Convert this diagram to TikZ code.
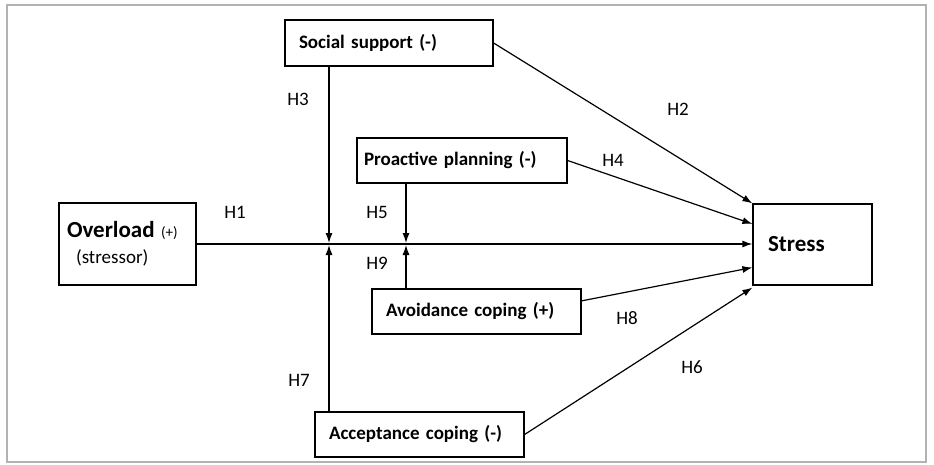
\documentclass[tikz,border=0pt]{standalone}
\usepackage{fontspec}
\setmainfont{Carlito}
\usetikzlibrary{arrows.meta,calc,positioning}

\begin{document}
\begin{tikzpicture}[x=1pt,y=-1pt,>={Latex[length=10pt,width=7pt]},line width=1.2pt,
  box/.style={draw,rectangle,inner xsep=14pt,align=left,font=\fontsize{19}{22}\selectfont\bfseries},
  lbl/.style={font=\fontsize{19}{22}\selectfont}]
\useasboundingbox (0,0) rectangle (934,465);
\draw [gray!60,line width=1.6pt] (7,5) rectangle (926,462);
% boxes
\node[box,minimum width=137pt,minimum height=82pt,text width=121pt,inner xsep=8pt] (overload) at (127.5,244)
  {\fontsize{23}{26}\selectfont Overload \mdseries\fontsize{15}{18}\selectfont(+)\\[4pt]
   \hspace*{9pt}\mdseries\fontsize{19}{22}\selectfont(stressor)};
\node[box,minimum width=119pt,minimum height=81pt,text width=89pt,font=\fontsize{23}{26}\selectfont\bfseries] (stress) at (812.5,244.5) {Stress};
\node[box,minimum width=208pt,minimum height=46pt,text width=180pt] (social) at (389,43) {Social support (-)};
\node[box,minimum width=210pt,minimum height=45pt,text width=196pt,inner xsep=7pt] (proactive) at (462,160.5) {Proactive planning (-)};
\node[box,minimum width=209pt,minimum height=45pt,text width=181pt] (avoid) at (476.5,311.5) {Avoidance coping (+)};
\node[box,minimum width=209pt,minimum height=45pt,text width=181pt] (accept) at (419.5,434.5) {Acceptance coping (-)};
% moderation points
\coordinate (j1) at (329,244);
\coordinate (j2) at (406,244);
% arrows
\draw [->] (overload.east) -- (overload.east -| stress.west);
\draw [->,shorten >=1pt] (social.south -| j1) -- (j1);
\draw [->,shorten >=1pt] (accept.north -| j1) -- (j1);
\draw [->,shorten >=1pt] (proactive.south -| j2) -- (j2);
\draw [->,shorten >=1pt] (avoid.north -| j2) -- (j2);
\draw [->] (social.east) -- (stress.north west);
\draw [->] (proactive.east) -- ($(stress.north west)!0.25!(stress.south west)$);
\draw [->] ($(avoid.north east)!0.27!(avoid.south east)$) -- ($(stress.north west)!0.78!(stress.south west)$);
\draw [->] (accept.east) -- ($(stress.south west)+(0,2)$);
% labels
\node[lbl] (h1) at (235,212) {H1};
\node[lbl] (h2) at (678,109) {H2};
\node[lbl] (h3) at (298,99) {H3};
\node[lbl] (h4) at (613,160) {H4};
\node[lbl] (h5) at (377,212) {H5};
\node[lbl] (h6) at (692,367) {H6};
\node[lbl] (h7) at (299,380) {H7};
\node[lbl] (h8) at (627,318) {H8};
\node[lbl] (h9) at (377,263) {H9};
\end{tikzpicture}
\end{document}
